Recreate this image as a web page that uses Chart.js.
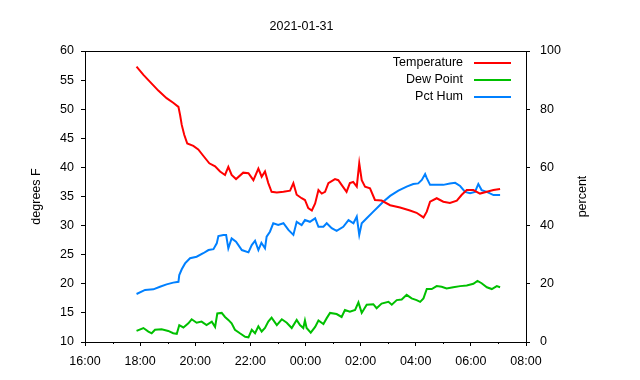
<!DOCTYPE html>
<html>
<head>
<meta charset="utf-8">
<script src="https://cdn.jsdelivr.net/npm/chart.js@4/dist/chart.umd.min.js"></script>
<style>
html,body{margin:0;padding:0;background:#fff;}
#wrap{width:640px;height:380px;}
</style>
</head>
<body>
<div id="wrap"><canvas id="c" width="640" height="380"></canvas></div>
<script>
// Times are hours after midnight of 2021-01-30 (values >= 24 fall on 2021-01-31)
const titleText = "2021-01-31";
const xTickHours = [16, 18, 20, 22, 24, 26, 28, 30, 32];
const leftTicks = [10, 15, 20, 25, 30, 35, 40, 45, 50, 55, 60];
const rightTicks = [0, 20, 40, 60, 80, 100];

const tempHours = [17.87,18.12,18.36,18.66,18.96,19.20,19.39,19.45,19.51,19.60,19.71,19.93,20.11,20.29,20.51,20.72,20.90,21.08,21.20,21.32,21.48,21.74,21.93,22.11,22.29,22.41,22.53,22.65,22.77,22.96,23.20,23.44,23.56,23.68,23.86,23.98,24.10,24.23,24.35,24.47,24.59,24.71,24.83,25.07,25.19,25.31,25.49,25.61,25.73,25.86,25.95,26.04,26.16,26.34,26.52,26.76,27.07,27.43,27.79,28.03,28.28,28.40,28.52,28.76,29.00,29.24,29.49,29.67,29.85,30.09,30.33,30.58,30.82,31.06];
const tempValues = [57.3,55.9,54.7,53.2,51.9,51.1,50.4,49.0,47.3,45.6,44.1,43.7,43.1,42.0,40.7,40.2,39.3,38.7,40.1,38.7,38.0,39.1,39.0,37.8,39.8,38.4,39.3,37.3,35.8,35.7,35.8,36.0,37.3,35.3,34.7,34.4,33.0,32.6,33.8,36.1,35.5,35.8,37.3,38.0,37.8,37.0,35.8,37.3,37.5,36.7,40.7,37.8,36.7,36.4,34.4,34.3,33.5,33.1,32.6,32.2,31.4,32.4,34.1,34.7,34.1,33.9,34.3,35.3,36.1,36.1,35.5,35.8,36.1,36.3];

const dewHours = [17.87,18.12,18.30,18.42,18.54,18.78,19.02,19.20,19.33,19.42,19.57,19.75,19.87,20.05,20.23,20.41,20.60,20.72,20.80,20.96,21.08,21.20,21.32,21.44,21.62,21.81,21.93,22.05,22.17,22.29,22.41,22.53,22.65,22.77,22.96,23.14,23.32,23.50,23.68,23.80,23.92,23.98,24.04,24.19,24.35,24.47,24.65,24.77,24.89,25.13,25.31,25.43,25.61,25.80,25.92,26.04,26.22,26.46,26.58,26.76,27.01,27.13,27.31,27.49,27.67,27.85,28.03,28.16,28.28,28.40,28.58,28.76,28.94,29.12,29.36,29.61,29.85,30.09,30.24,30.39,30.58,30.76,30.94,31.06];
const dewValues = [11.9,12.4,11.8,11.5,12.1,12.2,11.9,11.5,11.4,12.9,12.5,13.2,13.9,13.3,13.5,12.9,13.5,12.6,14.9,15.0,14.3,13.8,13.2,12.1,11.5,10.9,10.8,12.1,11.5,12.7,11.8,12.4,13.5,14.2,12.9,13.9,13.3,12.4,13.8,12.9,12.4,13.7,12.4,11.6,12.6,13.7,13.1,14.1,15.0,14.8,14.3,15.5,15.2,15.5,16.8,15.0,16.4,16.5,15.8,16.6,16.9,16.4,17.2,17.3,18.1,17.5,17.2,16.9,17.5,19.1,19.1,19.6,19.5,19.2,19.4,19.6,19.7,20.0,20.5,20.1,19.4,19.1,19.6,19.4];

const humHours = [17.87,18.18,18.48,18.72,18.96,19.20,19.39,19.42,19.51,19.63,19.81,20.05,20.29,20.48,20.66,20.78,20.84,21.02,21.12,21.20,21.32,21.48,21.69,21.93,22.05,22.17,22.29,22.40,22.53,22.59,22.71,22.83,23.01,23.20,23.38,23.56,23.68,23.86,23.98,24.16,24.35,24.47,24.65,24.77,24.95,25.13,25.37,25.56,25.74,25.86,25.95,26.04,26.22,26.46,26.64,26.82,27.07,27.37,27.67,27.91,28.09,28.22,28.34,28.40,28.52,28.76,29.00,29.24,29.43,29.61,29.79,29.97,30.15,30.27,30.39,30.58,30.82,31.06];
const humValues = [16.5,17.9,18.1,19.0,19.8,20.4,20.7,23.0,25.0,27.0,28.8,29.3,30.5,31.6,31.9,33.9,36.4,36.8,36.8,32.2,35.6,34.5,31.6,30.8,33.3,34.8,31.6,34.1,32.2,36.2,37.9,40.8,40.2,40.8,38.5,36.8,41.3,40.2,41.9,41.3,42.5,39.6,39.6,40.8,39.1,38.2,39.6,41.9,40.8,43.1,36.8,40.8,42.5,44.8,46.5,48.2,50.2,52.0,53.4,54.3,54.5,55.7,57.7,56.3,54.0,54.0,54.0,54.5,54.7,53.6,51.6,51.1,51.6,54.3,52.2,51.6,50.5,50.5];

const seriesNames = ["Temperature", "Dew Point", "Pct Hum"];
const seriesColors = ["#ff0000", "#00c000", "#0080ff"];
const leftTitle = "degrees F";
const rightTitle = "percent";

const FONT = "'Liberation Sans', Arial, sans-serif";
const FS = 12.5;

function pts(xs, ys) { return xs.map((x, i) => ({x: x, y: ys[i]})); }
function fmtHour(v) { return String(v % 24).padStart(2, '0') + ':00'; }

const decorPlugin = {
  id: 'decor',
  afterDraw(chart) {
    const ctx = chart.ctx, a = chart.chartArea;
    const xs = chart.scales.x;
    ctx.save();
    // frame
    ctx.strokeStyle = '#000';
    ctx.lineWidth = 1;
    ctx.strokeRect(Math.round(a.left) + 0.5, Math.round(a.top) + 0.5, Math.round(a.right - a.left), Math.round(a.bottom - a.top));
    // minor ticks on time axis (odd hours)
    for (let h = xs.min + 1; h < xs.max; h += 2) {
      const px = Math.round(xs.getPixelForValue(h)) + 0.5;
      ctx.beginPath();
      ctx.moveTo(px, a.bottom);
      ctx.lineTo(px, a.bottom + 2);
      ctx.stroke();
    }
    ctx.fillStyle = '#000';
    ctx.font = FS + 'px ' + FONT;
    // title
    ctx.textAlign = 'center';
    ctx.textBaseline = 'middle';
    ctx.fillText(titleText, (a.left + a.right) / 2 - 4, 27);
    // axis titles
    const midY = (a.top + a.bottom) / 2;
    ctx.save();
    ctx.translate(37, midY);
    ctx.rotate(-Math.PI / 2);
    ctx.fillText(leftTitle, 0, 0);
    ctx.restore();
    ctx.save();
    ctx.translate(583, midY);
    ctx.rotate(-Math.PI / 2);
    ctx.fillText(rightTitle, 0, 0);
    ctx.restore();
    // legend
    const lx1 = a.right - 52, lx2 = a.right - 15, tx = a.right - 63;
    chart.data.datasets.forEach((ds, i) => {
      const y = a.top + 12 + i * 17;
      ctx.textAlign = 'right';
      ctx.fillStyle = '#000';
      ctx.fillText(ds.label, tx, y);
      ctx.strokeStyle = ds.borderColor;
      ctx.lineWidth = 2;
      ctx.beginPath();
      ctx.moveTo(lx1, y);
      ctx.lineTo(lx2, y);
      ctx.stroke();
    });
    ctx.restore();
  }
};

new Chart(document.getElementById('c'), {
  type: 'line',
  data: {
    datasets: [
      {label: seriesNames[0], data: pts(tempHours, tempValues), borderColor: seriesColors[0], yAxisID: 'y'},
      {label: seriesNames[1], data: pts(dewHours, dewValues), borderColor: seriesColors[1], yAxisID: 'y'},
      {label: seriesNames[2], data: pts(humHours, humValues), borderColor: seriesColors[2], yAxisID: 'y1'}
    ]
  },
  options: {
    responsive: false,
    animation: false,
    parsing: true,
    elements: {
      line: {borderWidth: 2, tension: 0, fill: false},
      point: {radius: 0, hoverRadius: 0}
    },
    layout: {padding: {top: 51, left: 0, right: 0, bottom: 0}},
    plugins: {legend: {display: false}, title: {display: false}, tooltip: {enabled: false}},
    scales: {
      x: {
        type: 'linear', position: 'bottom',
        min: xTickHours[0], max: xTickHours[xTickHours.length - 1],
        afterBuildTicks: s => { s.ticks = xTickHours.map(v => ({value: v})); },
        afterFit: s => { s.height = 38; },
        ticks: {callback: v => fmtHour(v), color: '#000', font: {family: FONT, size: FS}, padding: 8, maxRotation: 0, autoSkip: false},
        grid: {display: true, drawOnChartArea: false, drawTicks: true, tickLength: 4, color: '#000'},
        border: {display: true, color: '#000'}
      },
      y: {
        position: 'left', min: leftTicks[0], max: leftTicks[leftTicks.length - 1],
        afterBuildTicks: s => { s.ticks = leftTicks.map(v => ({value: v})); },
        afterFit: s => { s.width = 85; },
        ticks: {color: '#000', font: {family: FONT, size: FS}, padding: 7},
        grid: {display: true, drawOnChartArea: false, drawTicks: true, tickLength: 4, color: '#000'},
        border: {display: true, color: '#000'}
      },
      y1: {
        position: 'right', min: rightTicks[0], max: rightTicks[rightTicks.length - 1],
        afterBuildTicks: s => { s.ticks = rightTicks.map(v => ({value: v})); },
        afterFit: s => { s.width = 114; },
        ticks: {color: '#000', font: {family: FONT, size: FS}, padding: 10},
        grid: {display: true, drawOnChartArea: false, drawTicks: true, tickLength: 4, color: '#000'},
        border: {display: true, color: '#000'}
      }
    }
  },
  plugins: [decorPlugin]
});
</script>
</body>
</html>
